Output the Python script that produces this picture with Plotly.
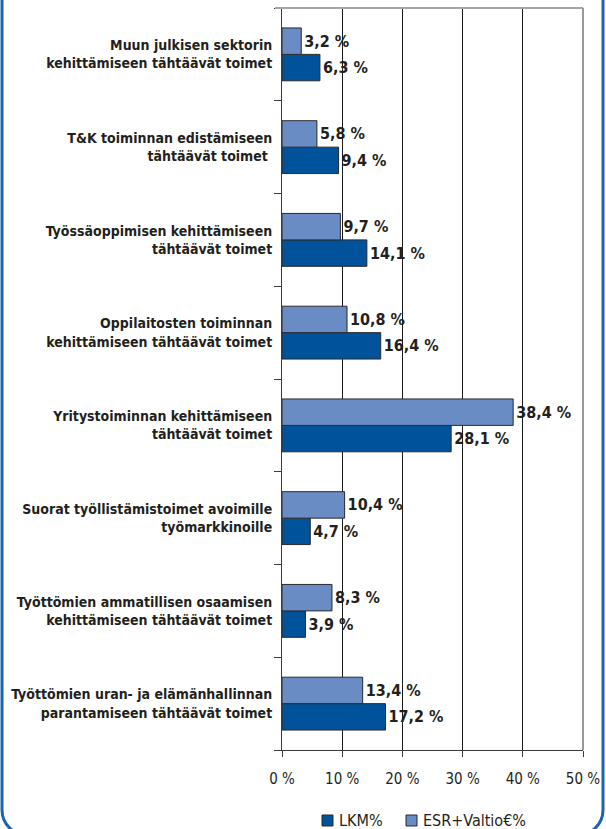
import plotly.graph_objects as go

categories = [
    "Muun julkisen sektorin<br>kehittämiseen tähtäävät toimet",
    "T&K toiminnan edistämiseen<br>tähtäävät toimet ",
    "Työssäoppimisen kehittämiseen<br>tähtäävät toimet",
    "Oppilaitosten toiminnan<br>kehittämiseen tähtäävät toimet",
    "Yritystoiminnan kehittämiseen<br>tähtäävät toimet",
    "Suorat työllistämistoimet avoimille<br>työmarkkinoille",
    "Työttömien ammatillisen osaamisen<br>kehittämiseen tähtäävät toimet",
    "Työttömien uran- ja elämänhallinnan<br>parantamiseen tähtäävät toimet",
]
lkm = [6.3, 9.4, 14.1, 16.4, 28.1, 4.7, 3.9, 17.2]
esr = [3.2, 5.8, 9.7, 10.8, 38.4, 10.4, 8.3, 13.4]
series_names = ["LKM%", "ESR+Valtio€%"]
series_colors = ["#00529b", "#6a8cc5"]
x_ticks = [0, 10, 20, 30, 40, 50]
x_tick_labels = ["0 %", "10 %", "20 %", "30 %", "40 %", "50 %"]

FONT = "DejaVu Sans Condensed, Liberation Sans Narrow, Roboto, sans-serif"
TXT = "#231f20"

def fmt(v):
    return f"{v:.1f}".replace(".", ",") + " %"

fig = go.Figure()
for name, vals, col in zip(series_names, [lkm, esr], series_colors):
    fig.add_trace(go.Bar(
        name=name, y=categories, x=vals, orientation="h",
        marker=dict(color=col, line=dict(color="#2a2a2a", width=1)),
        text=[fmt(v) for v in vals], textposition="outside", constraintext="none",
        cliponaxis=False,
        textfont=dict(family=FONT, size=16, color=TXT, weight="bold"),
    ))

W, H = 606, 829
L, R, T, B = 282, 23, 8, 79
pw, ph = W - L - R, H - T - B

def px(x):
    return (x - L) / pw

def py(y):
    return (H - B - y) / ph

# frame with rounded bottom corners
x0, x1, yb, r = 2, 603, 835, 25
k = 0.5523 * r
path = (
    f"M {px(x0)},{py(-20)} L {px(x0)},{py(yb - r)} "
    f"C {px(x0)},{py(yb - r + k)} {px(x0 + r - k)},{py(yb)} {px(x0 + r)},{py(yb)} "
    f"L {px(x1 - r)},{py(yb)} "
    f"C {px(x1 - r + k)},{py(yb)} {px(x1)},{py(yb - r + k)} {px(x1)},{py(yb - r)} "
    f"L {px(x1)},{py(-20)}"
)

shapes = [
    dict(type="line", xref="paper", yref="paper", x0=px(275), x1=1, y0=1, y1=1,
         line=dict(color="#a6a6a6", width=2), layer="above"),
    dict(type="line", xref="paper", yref="paper", x0=1, x1=1, y0=0, y1=1,
         line=dict(color="#999999", width=2), layer="above"),
    dict(type="path", xref="paper", yref="paper", path=path,
         line=dict(color="#1c64b0", width=3), layer="above"),
]
annotations = []
# manual legend
legend_sq_x = [322, 406]
legend_txt_x = [337, 421]
for name, col, sx, tx in zip(series_names, series_colors, legend_sq_x, legend_txt_x):
    shapes.append(dict(type="rect", xref="paper", yref="paper",
                       x0=px(sx), x1=px(sx + 11), y0=py(826), y1=py(815),
                       fillcolor=col, line=dict(color="#2a2a2a", width=1), layer="above"))
    annotations.append(dict(text=name, xref="paper", yref="paper", x=px(tx), y=py(820),
                            xanchor="left", yanchor="middle", showarrow=False,
                            font=dict(family=FONT, size=16, color=TXT)))

fig.update_layout(
    width=W, height=H,
    margin=dict(l=L, r=R, t=T, b=B, autoexpand=False),
    paper_bgcolor="white", plot_bgcolor="white",
    barmode="group", bargap=0.43, bargroupgap=0,
    font=dict(family=FONT, color=TXT, size=14),
    showlegend=False,
    xaxis=dict(range=[0, 50], tickvals=x_ticks, ticktext=x_tick_labels,
               showgrid=True, gridcolor="#1a1a1a", gridwidth=1,
               showline=True, linecolor="#3a3a3a", linewidth=1,
               ticks="outside", ticklen=6, tickcolor="#3a3a3a",
               ticklabelstandoff=9,
               tickfont=dict(family=FONT, size=15, color=TXT),
               zeroline=False, fixedrange=True),
    yaxis=dict(categoryorder="array", categoryarray=list(reversed(categories)),
               showline=True, linecolor="#3a3a3a", linewidth=1,
               ticks="outside", ticklen=7, tickcolor="#3a3a3a", tickson="boundaries",
               ticklabelstandoff=6,
               tickfont=dict(family=FONT, size=14, color=TXT, weight="bold"),
               showgrid=False, fixedrange=True),
    shapes=shapes,
    annotations=annotations,
)

fig.write_html(
    "out.html",
    config={"displayModeBar": False},
    post_script="document.body.style.margin='0px';document.body.style.overflow='hidden';",
)
